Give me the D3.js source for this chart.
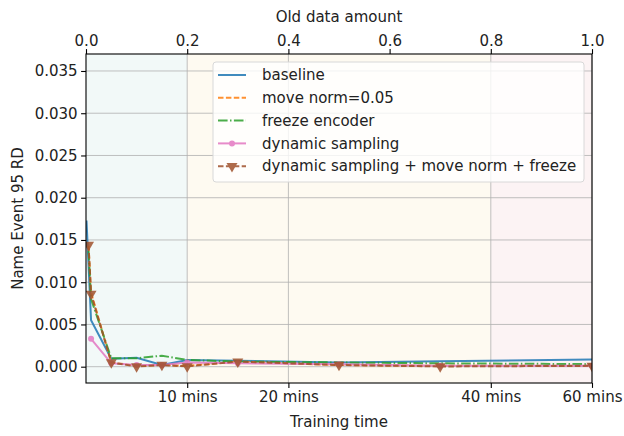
<!DOCTYPE html>
<html><head><meta charset="utf-8">
<script src="https://cdn.jsdelivr.net/npm/d3@7"></script>
<style>body{margin:0;background:#fff}svg{display:block}text{font-family:"DejaVu Sans",sans-serif;fill:#222}</style>
</head><body><svg id="c" width="624" height="436"></svg>
<script>
const xs = [0.005, 0.01, 0.05, 0.1, 0.15, 0.2, 0.3, 0.5, 0.7, 1.0];
const xsBaseline = [0.001, 0.01, 0.05, 0.1, 0.15, 0.2, 0.3, 0.5, 0.7, 1.0];
const baseline = [0.0173, 0.0055, 0.00095, 0.00105, 0.0002, 0.0008, 0.0007, 0.0005, 0.00064, 0.00085];
const moveNorm = [0.0143, 0.0088, 0.0005, 0.0001, 0.0002, 0.0001, 0.0006, 0.0002, 0.0001, 0.0001];
const freezeEnc = [0.0137, 0.0080, 0.0010, 0.0010, 0.0013, 0.0008, 0.0006, 0.0005, 0.0004, 0.0003];
const dynSampling = [null, 0.0033, 0.0004, 0.0002, 0.0002, 0.0005, 0.0004, 0.0003, 0.0001, 0.0001];
const dynAll = [0.0144, 0.0086, 0.0005, 0.00003, 0.0002, 0.00003, 0.0006, 0.0002, 0.00003, 0.0001];
const seriesNames = ["baseline", "move norm=0.05", "freeze encoder", "dynamic sampling", "dynamic sampling + move norm + freeze"];
const topTicks = [0.0, 0.2, 0.4, 0.6, 0.8, 1.0];
const bottomTickPos = [0.2, 0.4, 0.8, 1.0];
const bottomTickLabels = ["10 mins", "20 mins", "40 mins", "60 mins"];
const yTicks = [0, 0.005, 0.01, 0.015, 0.02, 0.025, 0.03, 0.035];
const bands = [[0, 0.2, "#f2f9f8"], [0.2, 0.8, "#fefaf1"], [0.8, 1.0, "#fcf3f4"]];

const svg = d3.select("#c");
const L = 86, R = 592, T = 54, B = 383;
const x = d3.scaleLinear().domain([0, 1]).range([L, R]);
const y = d3.scaleLinear().domain([-0.00193, 0.03701]).range([B, T]);
const FS = "15px";

const defs = svg.append("defs");
defs.append("clipPath").attr("id", "clip").append("rect").attr("x", L).attr("y", T).attr("width", R - L).attr("height", B - T);

// bands
svg.append("g").selectAll("rect").data(bands).join("rect")
  .attr("x", d => x(d[0])).attr("width", d => x(d[1]) - x(d[0]))
  .attr("y", T).attr("height", B - T).attr("fill", d => d[2]);

// grid
const grid = svg.append("g").attr("stroke", "#b0b0b0").attr("stroke-width", 0.8);
grid.selectAll(".gy").data(yTicks).join("line").attr("x1", L).attr("x2", R)
  .attr("y1", d => y(d)).attr("y2", d => y(d));
grid.selectAll(".gx").data(bottomTickPos).join("line").attr("y1", T).attr("y2", B)
  .attr("x1", d => x(d)).attr("x2", d => x(d));

// lines
const series = [
  {xv: xsBaseline, v: baseline, c: "#1f77b4", dash: null, marker: null},
  {xv: xs, v: moveNorm, c: "#ff7f0e", dash: "5.5,2.4", marker: null},
  {xv: xs, v: freezeEnc, c: "#2ca02c", dash: "9.6,2.4,1.5,2.4", marker: null},
  {xv: xs, v: dynSampling, c: "#e377c2", dash: null, marker: "dot"},
  {xv: xs, v: dynAll, c: "#a0522d", dash: "5.5,2.4", marker: "tri"}
];
const line = d3.line().defined(d => d[1] != null).x(d => x(d[0])).y(d => y(d[1]));
const plot = svg.append("g").attr("clip-path", "url(#clip)");
const tri = d3.symbol().type(d3.symbolTriangle).size(52);
series.forEach(s => {
  const pts = s.xv.map((xv, i) => [xv, s.v[i]]);
  const g = plot.append("g").attr("opacity", 0.85);
  g.append("path").datum(pts).attr("d", line).attr("fill", "none")
    .attr("stroke", s.c).attr("stroke-width", 2).attr("stroke-dasharray", s.dash);
  const valid = pts.filter(d => d[1] != null);
  if (s.marker === "dot") {
    g.selectAll("circle").data(valid).join("circle").attr("cx", d => x(d[0])).attr("cy", d => y(d[1]))
      .attr("r", 3).attr("fill", s.c);
  } else if (s.marker === "tri") {
    g.selectAll(".m").data(valid).join("path").attr("d", tri)
      .attr("transform", d => `translate(${x(d[0])},${y(d[1])}) rotate(180)`).attr("fill", s.c);
  }
});

// spines
const sp = svg.append("g").attr("stroke", "#000").attr("stroke-width", 1.1).attr("fill", "none");
sp.append("rect").attr("x", L).attr("y", T).attr("width", R - L).attr("height", B - T);

// axes
const axY = svg.append("g").attr("transform", `translate(${L},0)`)
  .call(d3.axisLeft(y).tickValues(yTicks).tickFormat(d3.format(".3f")).tickSize(4.9).tickPadding(3.5));
const axTop = svg.append("g").attr("transform", `translate(0,${T})`)
  .call(d3.axisTop(x).tickValues(topTicks).tickFormat(d3.format(".1f")).tickSize(4.9).tickPadding(3.5));
const axBot = svg.append("g").attr("transform", `translate(0,${B})`)
  .call(d3.axisBottom(x).tickValues(bottomTickPos).tickFormat((d, i) => bottomTickLabels[i]).tickSize(4.9).tickPadding(3.5));
[axY, axTop, axBot].forEach(a => {
  a.select(".domain").remove();
  a.selectAll("line").attr("stroke", "#000").attr("stroke-width", 1.1);
  a.selectAll("text").style("font-size", FS).style("font-family", "DejaVu Sans").attr("fill", "#222");
});

svg.append("text").attr("x", (L + R) / 2).attr("y", 22).attr("text-anchor", "middle").style("font-size", FS).text("Old data amount");
svg.append("text").attr("x", (L + R) / 2).attr("y", 427).attr("text-anchor", "middle").style("font-size", FS).text("Training time");
svg.append("text").attr("transform", `translate(23,${(T + B) / 2}) rotate(-90)`).attr("text-anchor", "middle").style("font-size", FS).text("Name Event 95 RD");

// legend
const lg = svg.append("g");
lg.append("rect").attr("x", 213).attr("y", 62).attr("width", 371).attr("height", 120).attr("rx", 3)
  .attr("fill", "#fff").attr("fill-opacity", 0.8).attr("stroke", "#d8d8d8").attr("stroke-width", 1);
const ly0 = 75, ldy = 22.8;
series.forEach((s, i) => {
  const yy = ly0 + i * ldy;
  const g = lg.append("g").attr("opacity", 0.85);
  g.append("line").attr("x1", 218).attr("x2", 246).attr("y1", yy).attr("y2", yy)
    .attr("stroke", s.c).attr("stroke-width", 2).attr("stroke-dasharray", s.dash);
  if (s.marker === "dot") g.append("circle").attr("cx", 232).attr("cy", yy).attr("r", 3).attr("fill", s.c);
  if (s.marker === "tri") g.append("path").attr("d", tri).attr("transform", `translate(232,${yy}) rotate(180)`).attr("fill", s.c);
  lg.append("text").attr("x", 262).attr("y", yy).attr("dy", "0.35em").style("font-size", FS).text(seriesNames[i]);
});
</script></body></html>
